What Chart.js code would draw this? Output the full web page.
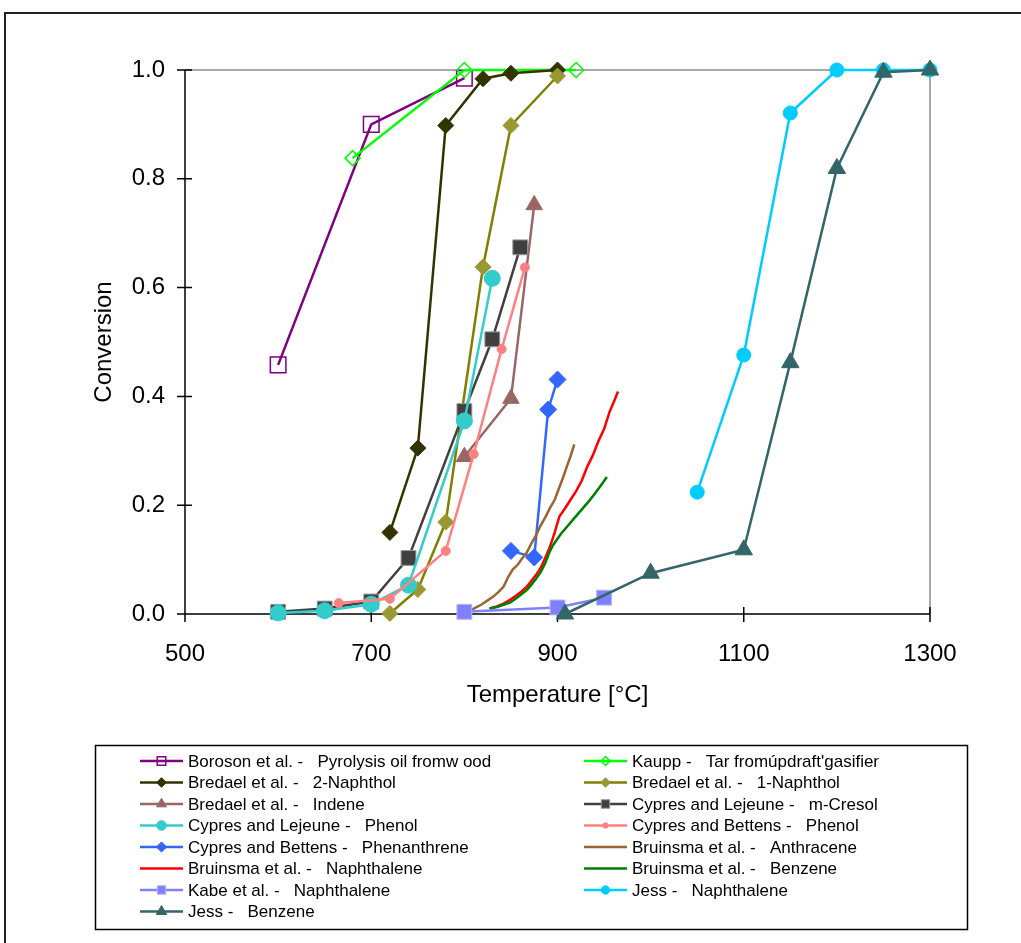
<!DOCTYPE html>
<html>
<head>
<meta charset="utf-8">
<script src="https://cdn.jsdelivr.net/npm/chart.js@4/dist/chart.umd.min.js"></script>
<style>
  html, body { margin: 0; padding: 0; background: #fff; }
  #wrap { width: 1021px; height: 943px; }
</style>
</head>
<body>
<div id="wrap"><canvas id="conversionChart" width="1021" height="943"></canvas></div>
<script>
// temperatures [°C] and conversions
const borosonT = [600, 700, 800];
const borosonC = [0.458, 0.900, 0.985];
const kauppT = [680, 800, 920];
const kauppC = [0.838, 1.0, 1.0];
const naph2T = [720, 750, 780, 820, 850, 900];
const naph2C = [0.150, 0.305, 0.898, 0.984, 0.994, 1.0];
const naph1T = [720, 750, 780, 820, 850, 900];
const naph1C = [0.001, 0.045, 0.169, 0.638, 0.898, 0.989];
const indeneT = [800, 850, 875];
const indeneC = [0.289, 0.396, 0.752];
const cresolT = [600, 650, 700, 740, 800, 830, 860];
const cresolC = [0.004, 0.010, 0.023, 0.103, 0.373, 0.505, 0.674];
const lejPhenolT = [600, 650, 700, 740, 800, 830];
const lejPhenolC = [0.002, 0.006, 0.018, 0.053, 0.355, 0.617];
const betPhenolT = [665, 720, 780, 810, 840, 865];
const betPhenolC = [0.020, 0.028, 0.116, 0.294, 0.487, 0.637];
const phenanT = [850, 875, 890, 900];
const phenanC = [0.116, 0.104, 0.376, 0.431];
const anthT = [802, 810, 818, 825, 831, 837, 842, 847, 852, 857, 862, 867, 872, 877, 882, 887, 892, 897, 902, 906, 910, 914, 918];
const anthC = [0.004, 0.010, 0.017, 0.025, 0.032, 0.041, 0.050, 0.068, 0.082, 0.090, 0.102, 0.113, 0.130, 0.145, 0.163, 0.178, 0.195, 0.210, 0.233, 0.251, 0.271, 0.290, 0.312];
const bruNaphT = [827, 835, 842, 849, 855, 861, 867, 872, 877, 882, 887, 892, 897, 902, 908, 914, 920, 926, 932, 938, 944, 950, 956, 961, 965];
const bruNaphC = [0.010, 0.014, 0.019, 0.026, 0.033, 0.041, 0.050, 0.061, 0.072, 0.085, 0.104, 0.124, 0.150, 0.179, 0.194, 0.210, 0.226, 0.245, 0.271, 0.292, 0.318, 0.340, 0.372, 0.392, 0.409];
const bruBenzT = [827, 835, 842, 849, 855, 861, 867, 872, 877, 882, 887, 891, 895, 899, 904, 910, 916, 922, 928, 934, 940, 946, 953];
const bruBenzC = [0.010, 0.013, 0.017, 0.021, 0.028, 0.036, 0.044, 0.054, 0.065, 0.077, 0.094, 0.112, 0.126, 0.136, 0.148, 0.160, 0.172, 0.184, 0.196, 0.208, 0.221, 0.235, 0.252];
const kabeT = [800, 900, 950];
const kabeC = [0.004, 0.012, 0.030];
const jessNaphT = [1050, 1100, 1150, 1200, 1250, 1300];
const jessNaphC = [0.224, 0.476, 0.921, 1.0, 1.0, 1.0];
const jessBenzT = [908, 1000, 1100, 1150, 1200, 1250, 1300];
const jessBenzC = [0.0, 0.075, 0.118, 0.462, 0.819, 0.996, 1.0];

const yTicks = [0, 0.2, 0.4, 0.6, 0.8, 1.0];
const xTicks = [500, 700, 900, 1100, 1300];

const NONE = 'rgba(0,0,0,0)';
const series = [
  { label: "Boroson et al. -   Pyrolysis oil fromw ood", t: borosonT, c: borosonC, line: '#800080', fill: NONE, edge: '#800080', style: 'rect', r: 11, bw: 1.5 },
  { label: "Kaupp -   Tar fromúpdraft'gasifier", t: kauppT, c: kauppC, line: '#00ff00', fill: NONE, edge: '#00ff00', style: 'rectRot', r: 7.5, bw: 1.5 },
  { label: "Bredael et al. -   2-Naphthol", t: naph2T, c: naph2C, line: '#333300', fill: '#333300', edge: '#333300', style: 'rectRot', r: 8, bw: 1 },
  { label: "Bredael et al. -   1-Naphthol", t: naph1T, c: naph1C, line: '#808000', fill: '#999933', edge: '#999933', style: 'rectRot', r: 8, bw: 1 },
  { label: "Bredael et al. -   Indene", t: indeneT, c: indeneC, line: '#996666', fill: '#996666', edge: '#996666', style: 'triangle', r: 9.5, bw: 1 },
  { label: "Cypres and Lejeune -   m-Cresol", t: cresolT, c: cresolC, line: '#404040', fill: '#404040', edge: '#999999', style: 'rect', r: 10.5, bw: 1 },
  { label: "Cypres and Lejeune -   Phenol", t: lejPhenolT, c: lejPhenolC, line: '#33cccc', fill: '#33cccc', edge: '#33cccc', style: 'circle', r: 8, bw: 1 },
  { label: "Cypres and Bettens -   Phenol", t: betPhenolT, c: betPhenolC, line: '#ff8080', fill: '#ff8080', edge: '#ff8080', style: 'circle', r: 4.5, bw: 1 },
  { label: "Cypres and Bettens -   Phenanthrene", t: phenanT, c: phenanC, line: '#3366ff', fill: '#3366ff', edge: '#3366ff', style: 'rectRot', r: 8.5, bw: 1 },
  { label: "Bruinsma et al. -   Anthracene", t: anthT, c: anthC, line: '#996633', style: false },
  { label: "Bruinsma et al. -   Naphthalene", t: bruNaphT, c: bruNaphC, line: '#ff0000', style: false },
  { label: "Bruinsma et al. -   Benzene", t: bruBenzT, c: bruBenzC, line: '#008000', style: false },
  { label: "Kabe et al. -   Naphthalene", t: kabeT, c: kabeC, line: '#8080ff', fill: '#8080ff', edge: '#b3b3ff', style: 'rect', r: 10.5, bw: 1 },
  { label: "Jess -   Naphthalene", t: jessNaphT, c: jessNaphC, line: '#00ccff', fill: '#00ccff', edge: '#00ccff', style: 'circle', r: 7, bw: 1 },
  { label: "Jess -   Benzene", t: jessBenzT, c: jessBenzC, line: '#336666', fill: '#336666', edge: '#336666', style: 'triangle', r: 10, bw: 1 }
];

const FONT = "'Liberation Sans', Arial, sans-serif";

function marker(ctx, s, x, y, r) {
  ctx.beginPath();
  if (s.style === 'rect') {
    const h = r * Math.SQRT1_2;
    ctx.rect(x - h, y - h, 2 * h, 2 * h);
  } else if (s.style === 'rectRot') {
    ctx.moveTo(x, y - r); ctx.lineTo(x + r, y); ctx.lineTo(x, y + r); ctx.lineTo(x - r, y); ctx.closePath();
  } else if (s.style === 'triangle') {
    ctx.moveTo(x, y - r); ctx.lineTo(x + r * 0.866, y + r / 2); ctx.lineTo(x - r * 0.866, y + r / 2); ctx.closePath();
  } else {
    ctx.arc(x, y, r, 0, Math.PI * 2);
  }
  ctx.fillStyle = s.fill; ctx.strokeStyle = s.edge; ctx.lineWidth = s.bw;
  ctx.fill(); ctx.stroke();
}

const frame = {
  id: 'frame',
  beforeDatasetsDraw(chart) {
    const { ctx, chartArea: a, scales: { x, y } } = chart;
    ctx.save();
    ctx.strokeStyle = '#8c8c8c';
    ctx.lineWidth = 1.5;
    ctx.beginPath();
    ctx.moveTo(a.left, a.top); ctx.lineTo(a.right, a.top); ctx.lineTo(a.right, a.bottom);
    ctx.stroke();
    ctx.strokeStyle = '#000';
    ctx.lineWidth = 1.5;
    ctx.beginPath();
    y.ticks.forEach(t => { const py = y.getPixelForValue(t.value); ctx.moveTo(a.left - 8, py); ctx.lineTo(a.left + 7, py); });
    x.ticks.forEach(t => { const px = x.getPixelForValue(t.value); ctx.moveTo(px, a.bottom - 7); ctx.lineTo(px, a.bottom + 8); });
    ctx.moveTo(a.left, a.top); ctx.lineTo(a.left, a.bottom); ctx.lineTo(a.right, a.bottom);
    ctx.stroke();
    ctx.restore();
  },
  afterDraw(chart) {
    const { ctx, chartArea: a } = chart;
    ctx.save();
    // outer chart frame
    ctx.strokeStyle = '#222';
    ctx.lineWidth = 2;
    ctx.strokeRect(5, 13, 1040, 960);
    // axis titles
    ctx.fillStyle = '#000';
    ctx.font = '24px ' + FONT;
    ctx.textAlign = 'center';
    ctx.textBaseline = 'middle';
    ctx.fillText('Temperature [°C]', (a.left + a.right) / 2, 695);
    ctx.save();
    ctx.translate(104, (a.top + a.bottom) / 2);
    ctx.rotate(-Math.PI / 2);
    ctx.fillText('Conversion', 0, 0);
    ctx.restore();
    // legend
    ctx.strokeStyle = '#000';
    ctx.lineWidth = 1.5;
    ctx.strokeRect(95.5, 745.5, 872, 184);
    ctx.font = '17px ' + FONT;
    ctx.textAlign = 'left';
    series.forEach((s, i) => {
      const x0 = i % 2 ? 584 : 140;
      const y0 = 761 + Math.floor(i / 2) * 21.5;
      ctx.strokeStyle = s.line;
      ctx.lineWidth = 2.5;
      ctx.beginPath(); ctx.moveTo(x0, y0); ctx.lineTo(x0 + 43, y0); ctx.stroke();
      if (s.style) marker(ctx, s, x0 + 21.5, y0, Math.min(s.r * 0.6, 6));
      ctx.fillStyle = '#000';
      ctx.fillText(s.label, x0 + 48, y0 + 1);
    });
    ctx.restore();
  }
};

const datasets = series.map((s, i) => ({
  label: s.label,
  data: s.t.map((t, k) => ({ x: t, y: s.c[k] })),
  showLine: true,
  borderColor: s.line,
  borderWidth: 2.5,
  backgroundColor: s.fill || s.line,
  pointStyle: s.style || false,
  pointRadius: s.style ? s.r : 0,
  pointHoverRadius: s.style ? s.r : 0,
  pointBackgroundColor: s.fill,
  pointBorderColor: s.edge,
  pointBorderWidth: s.bw || 0,
  tension: 0,
  clip: false,
  order: series.length - i
}));

new Chart(document.getElementById('conversionChart'), {
  type: 'scatter',
  data: { datasets },
  options: {
    responsive: false,
    animation: false,
    devicePixelRatio: 1,
    layout: { padding: { top: 70, right: 91, left: 0, bottom: 0 } },
    plugins: { legend: { display: false }, tooltip: { enabled: false } },
    scales: {
      x: {
        type: 'linear',
        min: 500,
        max: 1300,
        afterFit: (scale) => { scale.height = 329; },
        afterBuildTicks: (scale) => { scale.ticks = xTicks.map(v => ({ value: v })); },
        grid: { display: false, drawTicks: false },
        border: { display: false },
        ticks: { padding: 26, color: '#000', font: { family: FONT, size: 24 }, maxRotation: 0, callback: v => String(v) }
      },
      y: {
        type: 'linear',
        min: 0,
        max: 1,
        afterFit: (scale) => { scale.width = 185; },
        afterBuildTicks: (scale) => { scale.ticks = yTicks.map(v => ({ value: v })); },
        grid: { display: false, drawTicks: false },
        border: { display: false },
        ticks: { padding: 20, color: '#000', font: { family: FONT, size: 24 }, callback: v => v.toFixed(1) }
      }
    }
  },
  plugins: [frame]
});
</script>
</body>
</html>
